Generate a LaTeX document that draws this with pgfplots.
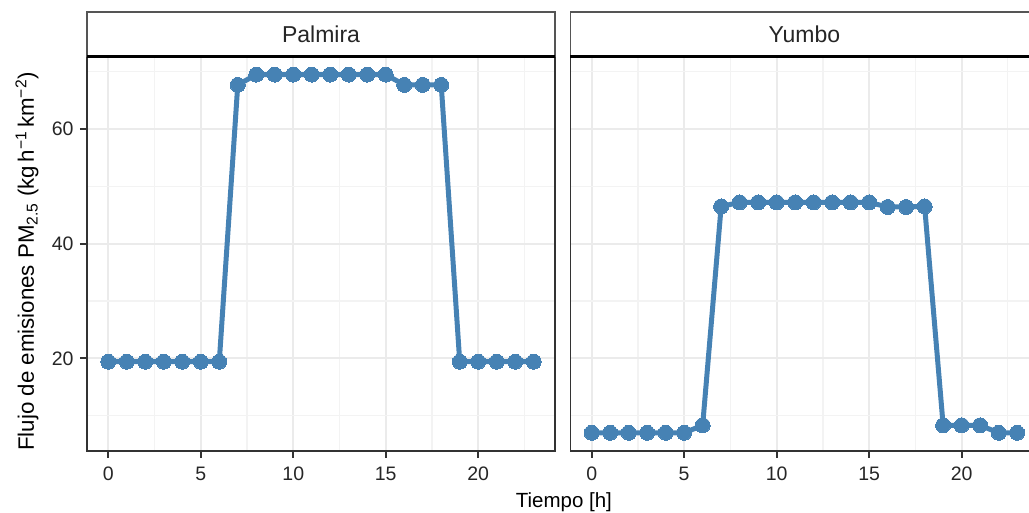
\documentclass[border=0pt]{standalone}
\usepackage{pgfplots}
\pgfplotsset{compat=1.18}
\usepackage{fontspec}
\setmainfont{Liberation Sans}

\definecolor{steel}{HTML}{4682B4}
\definecolor{gridmaj}{HTML}{EBEBEB}
\definecolor{gridmin}{HTML}{F3F3F3}
\definecolor{axisgray}{HTML}{333333}
\definecolor{stripgray}{HTML}{555555}

% Hourly PM2.5 emission flux per municipality
\pgfplotstableread{
h  v
0  19.4
1  19.4
2  19.4
3  19.4
4  19.4
5  19.4
6  19.4
7  67.7
8  69.5
9  69.5
10 69.5
11 69.5
12 69.5
13 69.5
14 69.5
15 69.5
16 67.7
17 67.7
18 67.7
19 19.4
20 19.4
21 19.4
22 19.4
23 19.4
}\palmira

\pgfplotstableread{
h  v
0  7.0
1  7.0
2  7.0
3  7.0
4  7.0
5  7.0
6  8.3
7  46.5
8  47.2
9  47.2
10 47.2
11 47.2
12 47.2
13 47.2
14 47.2
15 47.2
16 46.4
17 46.4
18 46.5
19 8.3
20 8.3
21 8.3
22 7.0
23 7.0
}\yumbo

\pgfplotsset{
  panel/.style={
    scale only axis, width=468pt, height=394pt,
    anchor=south west,
    xmin=-1.15, xmax=24.15, ymin=3.875, ymax=72.625,
    xtick={0,5,10,15,20}, minor xtick={2.5,7.5,12.5,17.5,22.5},
    ytick={20,40,60}, minor ytick={10,30,50,70},
    grid=both,
    major grid style={gridmaj, line width=2pt},
    minor grid style={gridmin, line width=1.2pt},
    axis line style={axisgray, line width=1.8pt},
    major tick style={axisgray, line width=1.8pt},
    major tick length=7pt, minor tick length=0pt,
    tick align=outside,
    xtick pos=bottom, ytick pos=left,
    ticklabel style={font=\fontsize{19.5}{20}\selectfont, text=black!85},
    xticklabel style={yshift=-6pt},
    yticklabel style={xshift=-3pt},
    /pgf/number format/assume math mode=true,
  },
  series/.style={steel, line width=5pt, line join=round,
    mark=*, mark size=7.5pt, mark options={solid, fill=steel, draw=steel, line width=0pt}},
}

\begin{document}
\begin{tikzpicture}
\useasboundingbox (0,0) rectangle (1029pt,512pt);

\begin{axis}[panel, name=pa, at={(87pt,61.3pt)},
  ylabel={Flujo de emisiones PM\textsubscript{2.5} (kg\,h\textsuperscript{\char"2212 1}\,km\textsuperscript{\char"2212 2})},
  ylabel style={at={(axis description cs:-0.128,0.48)}, anchor=center,
    font=\fontsize{22.3}{24}\selectfont},
  xlabel={Tiempo [h]},
  xlabel style={at={(axis description cs:1.019,-0.131)}, anchor=center,
    font=\fontsize{20.5}{24}\selectfont},
]
\addplot[series] table[x=h, y=v] {\palmira};
\end{axis}

\begin{axis}[panel, name=pb, at={(570.4pt,61.3pt)},
  yticklabels={}, ytick style={draw=none},
]
\addplot[series] table[x=h, y=v] {\yumbo};
\end{axis}

% facet strips
\foreach \p/\lab in {pa/Palmira, pb/Yumbo}{
  \fill[white] (\p.north west) rectangle ([yshift=45pt]\p.north east);
  \draw[stripgray, line width=1.8pt] (\p.north west) -- ([yshift=45pt]\p.north west)
     -- ([yshift=45pt]\p.north east) -- (\p.north east);
  \draw[black, line width=2.6pt] (\p.north west) -- (\p.north east);
  \node[font=\fontsize{23}{26}\selectfont, text=black!85] at ([yshift=22.5pt]\p.north) {\lab};
}
\end{tikzpicture}
\end{document}
